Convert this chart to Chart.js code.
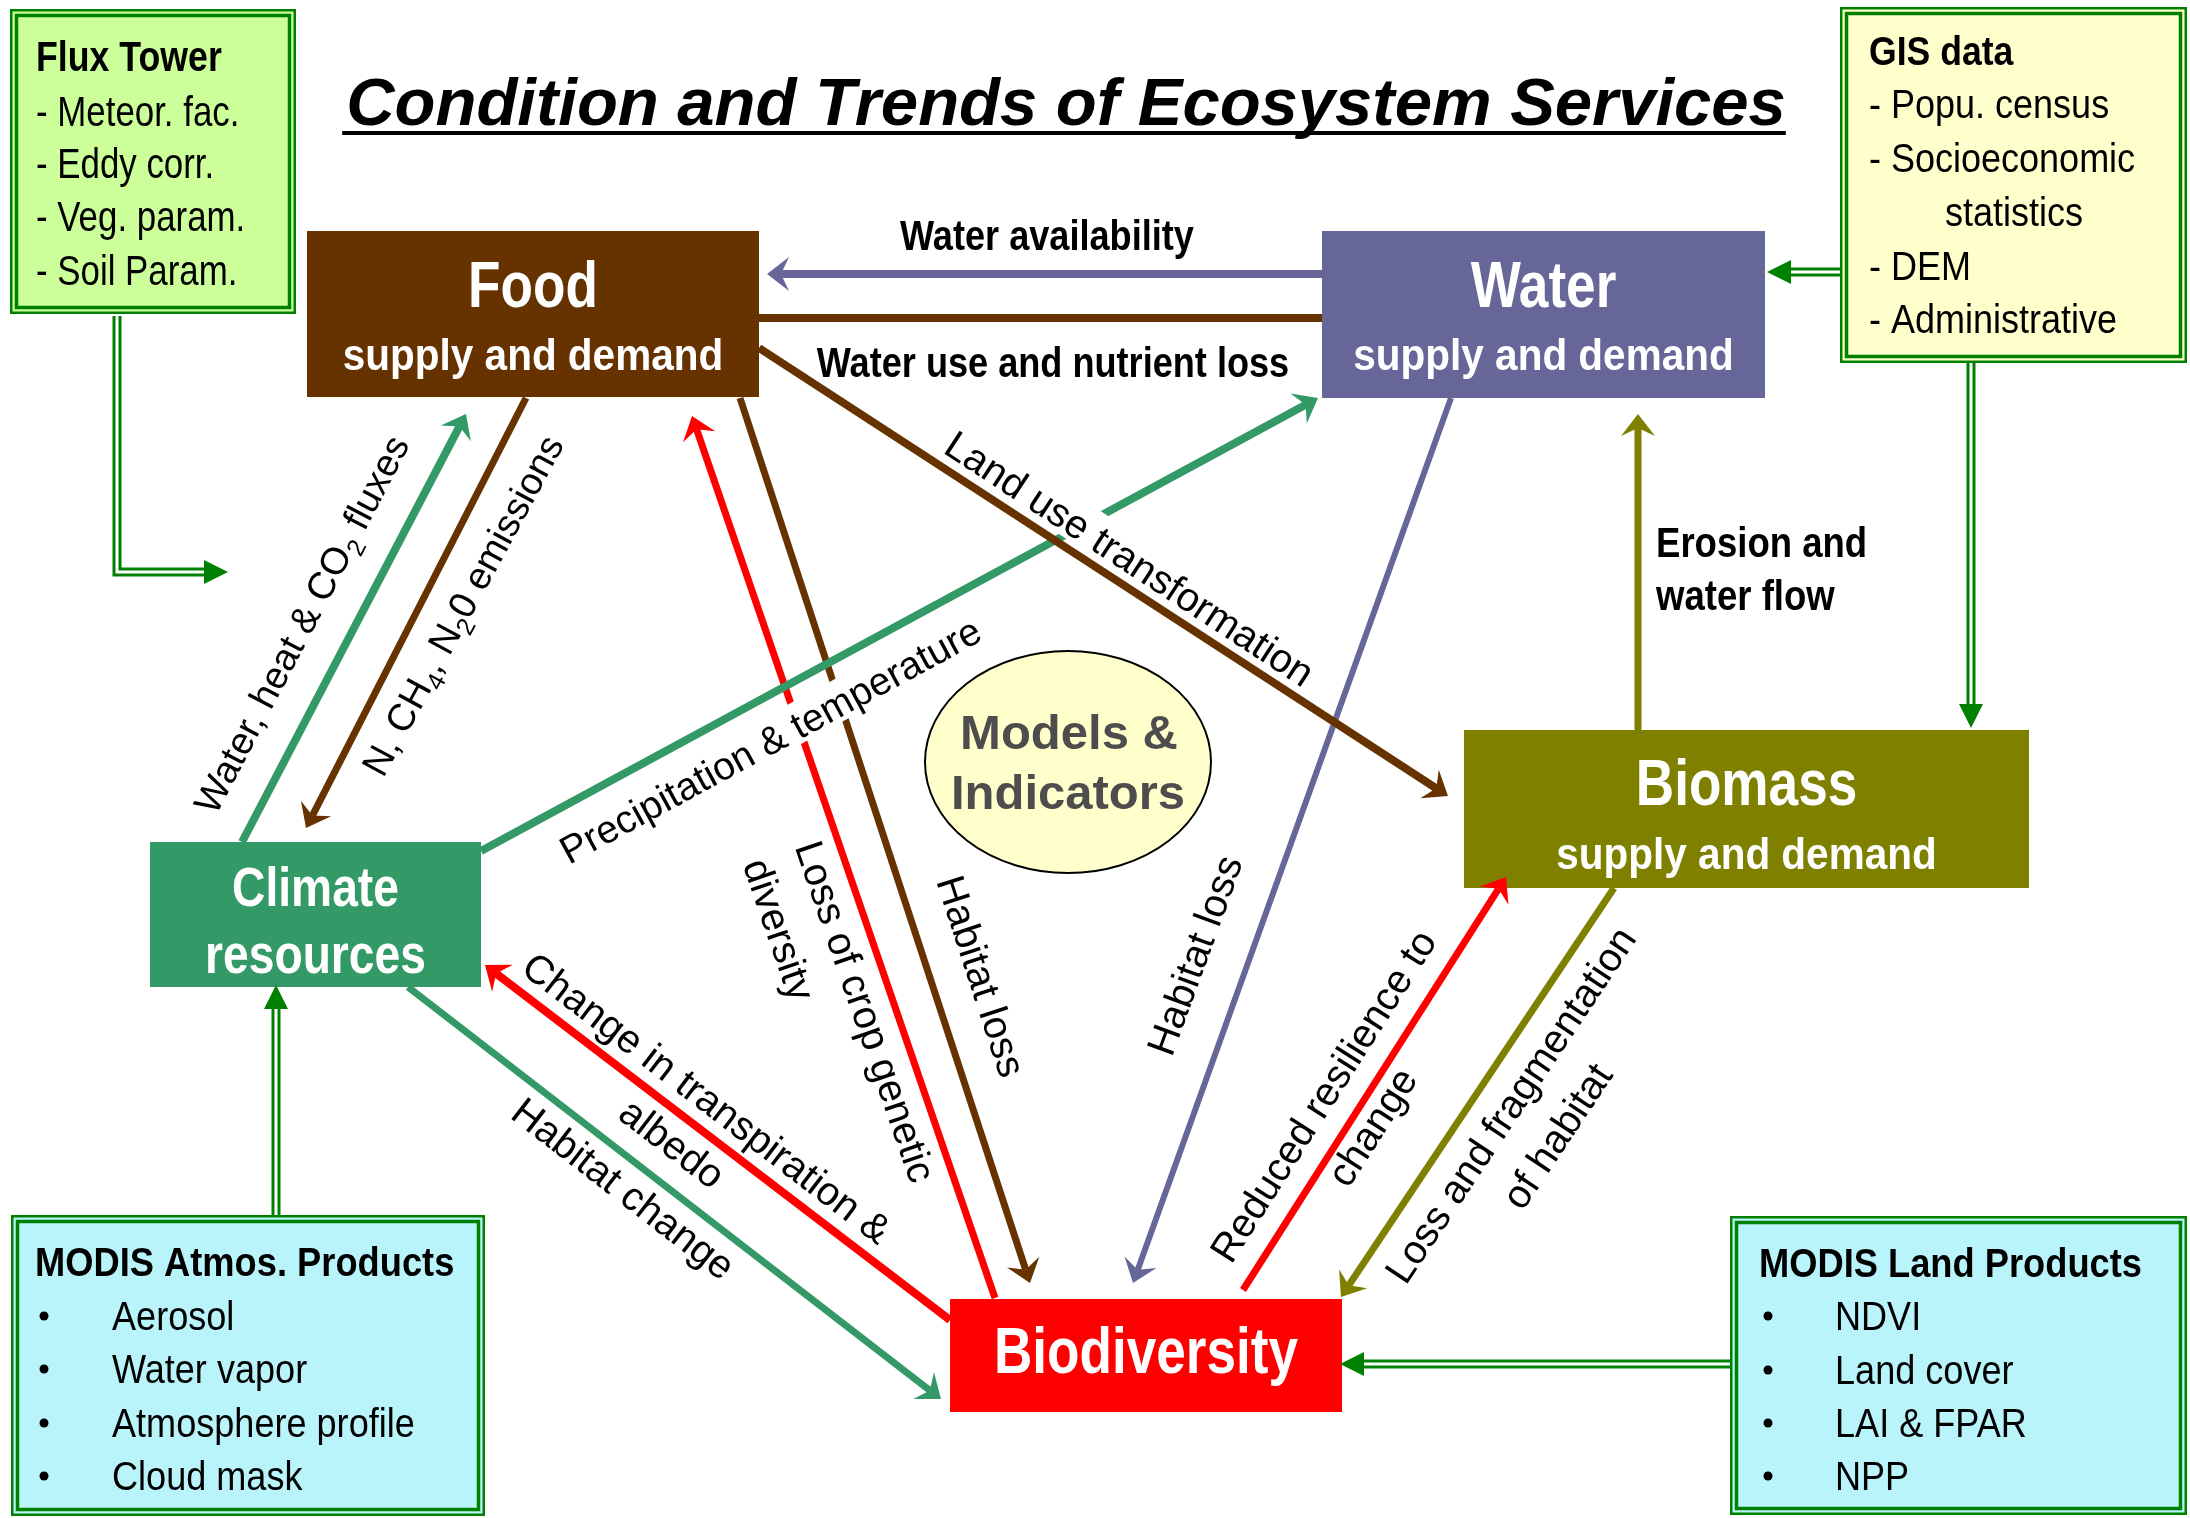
<!DOCTYPE html>
<html>
<head>
<meta charset="utf-8">
<title>Condition and Trends of Ecosystem Services</title>
<script src="https://cdn.jsdelivr.net/npm/chart.js@4.4.1/dist/chart.umd.min.js"></script>
<style>
  html, body { margin: 0; padding: 0; background: #fff; overflow: hidden; }
  #wrap { width: 2190px; height: 1518px; }
</style>
</head>
<body>
<div id="wrap"><canvas id="diagram" width="2190" height="1518"></canvas></div>
<script>
// ---- text ----
const titleText = 'Condition and Trends of Ecosystem Services';
const nodeNames = ['Food', 'Water', 'Biomass', 'Climate', 'Biodiversity'];
const nodeSubtitles = ['supply and demand', 'supply and demand', 'supply and demand', 'resources', ''];
const centreLines = ['Models &', 'Indicators'];
const sourceTitles = ['Flux Tower', 'GIS data', 'MODIS Atmos. Products', 'MODIS Land Products'];
const fluxItems = ['- Meteor. fac.', '- Eddy corr.', '- Veg. param.', '- Soil Param.'];
const gisItems = ['- Popu. census', '- Socioeconomic', 'statistics', '- DEM', '- Administrative'];
const atmosItems = ['Aerosol', 'Water vapor', 'Atmosphere profile', 'Cloud mask'];
const landItems = ['NDVI', 'Land cover', 'LAI & FPAR', 'NPP'];
// "_n" marks a subscript digit
const linkLabels = [
    ['Water availability'],
    ['Water use and nutrient loss'],
    ['Land use transformation'],
    ['N, CH_4, N_20 emissions'],
    ['Water, heat & CO_2 fluxes'],
    ['Precipitation & temperature'],
    ['Loss of crop genetic', 'diversity'],
    ['Habitat loss'],
    ['Habitat loss'],
    ['Erosion and', 'water flow'],
    ['Reduced resilience to', 'change'],
    ['Loss and fragmentation', 'of habitat'],
    ['Change in transpiration &', 'albedo'],
    ['Habitat change']
];

// ---- layout, in a 2190 x 1518 value space ----
const nodeBox = [[307, 231, 759, 397], [1322, 231, 1765, 398], [1464, 730, 2029, 888], [150, 842, 481, 987], [950, 1299, 1342, 1412]];
const nodeFill = ['#663300', '#666699', '#808000', '#339966', '#ff0000'];
const nodeBaselines = [[307, 370], [307, 370], [805, 869], [906, 973], [1373]];
const nodeSizes = [[64, 45], [64, 45], [64, 45], [55, 55], [64]];

const links = [
    { a: [1322, 274], b: [767, 274], c: '#666699', w: 8 },
    { a: [759, 318], b: [1322, 318], c: '#663300', w: 8, head: false },
    { a: [759, 348], b: [1448, 796], c: '#663300', w: 8 },
    { a: [526, 398], b: [306, 828], c: '#663300', w: 7 },
    { a: [242, 842], b: [466, 414], c: '#339966', w: 8 },
    { a: [481, 851], b: [1318, 398], c: '#339966', w: 8 },
    { a: [995, 1298], b: [692, 416], c: '#ff0000', w: 7 },
    { a: [740, 398], b: [1030, 1283], c: '#663300', w: 7 },
    { a: [1451, 398], b: [1133, 1283], c: '#666699', w: 6 },
    { a: [1638, 730], b: [1638, 414], c: '#808000', w: 7 },
    { a: [1243, 1290], b: [1506, 877], c: '#ff0000', w: 7 },
    { a: [1614, 888], b: [1341, 1297], c: '#808000', w: 7 },
    { a: [950, 1320], b: [485, 965], c: '#ff0000', w: 8 },
    { a: [408, 987], b: [941, 1399], c: '#339966', w: 7 }
];

const labelPos = [
    { x: 1047, y: 235, ang: 0, size: 42, bold: true, sx: 0.86 },
    { x: 1053, y: 362, ang: 0, size: 42, bold: true, sx: 0.86 },
    { x: 1130, y: 558, ang: 33.2, size: 40, bg: true },
    { x: 462, y: 605, ang: -61.5, size: 38 },
    { x: 301, y: 624, ang: -62.4, size: 38 },
    { x: 770, y: 740, ang: -28.5, size: 39, bg: true },
    { x: 782, y: 851, ang: 71, size: 40, lh: 55, align: 'left' },
    { x: 982, y: 976, ang: 72, size: 40 },
    { x: 1194, y: 955, ang: -70, size: 40 },
    { x: 1656, y: 568, ang: 0, size: 43, lh: 53, bold: true, sx: 0.85, align: 'left' },
    { x: 1347, y: 1111, ang: -57.5, size: 40, lh: 58 },
    { x: 1533, y: 1120, ang: -56.3, size: 40, lh: 56 },
    { x: 690, y: 1120, ang: 37.4, size: 40, lh: 57 },
    { x: 624, y: 1188, ang: 37.7, size: 40 }
];

// double green feeds from the data-source boxes
const feeds = [
    [[117, 316], [117, 572], [228, 572]],
    [[1840, 272], [1767, 272]],
    [[1971, 363], [1971, 728]],
    [[276, 1215], [276, 985]],
    [[1730, 1364], [1340, 1364]]
];

const sourceBox = [[10, 9, 296, 314], [1840, 7, 2187, 363], [11, 1215, 485, 1516], [1730, 1216, 2187, 1515]];
const sourceFill = ['#ccff99', '#ffffcc', '#b8f4fa', '#b8f4fa'];

const HEAD = { len: 22, hw: 17, notch: 14 };
const FEED_HEAD = { len: 24, hw: 12 };
const FONT = '"Liberation Sans", Arial, sans-serif';

function backOff(a, b, d) {
    const dx = b[0] - a[0], dy = b[1] - a[1], n = Math.hypot(dx, dy);
    return [b[0] - dx / n * d, b[1] - dy / n * d];
}
const pt = p => ({ x: p[0], y: p[1] });

const datasets = [];
links.forEach(l => {
    const end = l.head === false ? l.b : backOff(l.a, l.b, HEAD.notch);
    datasets.push({ data: [pt(l.a), pt(end)], borderColor: l.c, borderWidth: l.w, order: 0 });
});
feeds.forEach(f => {
    const pts = f.slice();
    pts[pts.length - 1] = backOff(pts[pts.length - 2], pts[pts.length - 1], FEED_HEAD.len - 2);
    datasets.push({ data: pts.map(pt), borderColor: '#008000', borderWidth: 9, order: 2 });
    datasets.push({ data: pts.map(pt), borderColor: '#ffffff', borderWidth: 3, order: 1 });
});

function fontSpec(size, bold, italic) {
    return (italic ? 'italic ' : '') + (bold ? 'bold ' : '') + size + 'px ' + FONT;
}

function richParts(str) {
    return str.split(/(_\d)/).filter(s => s).map(s => s[0] === '_' ? { t: s.slice(1), sub: true } : { t: s, sub: false });
}

function richWidth(ctx, str, size, bold) {
    let w = 0;
    richParts(str).forEach(p => {
        ctx.font = fontSpec(p.sub ? Math.round(size * 0.65) : size, bold);
        w += ctx.measureText(p.t).width;
    });
    return w;
}

function richDraw(ctx, str, x, y, size, bold) {
    richParts(str).forEach(p => {
        const s = p.sub ? Math.round(size * 0.65) : size;
        ctx.font = fontSpec(s, bold);
        ctx.fillText(p.t, x, p.sub ? y + size * 0.22 : y);
        x += ctx.measureText(p.t).width;
    });
}

const diagramPlugin = {
    id: 'diagram',
    beforeDraw(chart) {
        const ctx = chart.ctx;
        ctx.save();
        ctx.fillStyle = '#ffffff';
        ctx.fillRect(0, 0, chart.width, chart.height);
        ctx.restore();
    },
    afterDatasetsDraw(chart) {
        const ctx = chart.ctx;
        const xs = chart.scales.x, ys = chart.scales.y;
        const P = p => [xs.getPixelForValue(p[0]), ys.getPixelForValue(p[1])];
        const k = (xs.right - xs.left) / 2190;

        function text(str, x, y, o) {
            const p = P([x, y]);
            ctx.save();
            ctx.translate(p[0], p[1]);
            ctx.scale(o.sx || 1, 1);
            ctx.font = fontSpec(o.size * k, o.bold, o.italic);
            ctx.fillStyle = o.color || '#000';
            ctx.textAlign = o.align || 'left';
            ctx.textBaseline = 'alphabetic';
            ctx.fillText(str, 0, 0);
            ctx.restore();
        }

        function head(from, tip, len, hw, notch, color) {
            const a = P(from), t = P(tip);
            const dx = t[0] - a[0], dy = t[1] - a[1], d = Math.hypot(dx, dy);
            const ux = dx / d, uy = dy / d, nx = -uy, ny = ux;
            len *= k; hw *= k; notch *= k;
            ctx.beginPath();
            ctx.moveTo(t[0], t[1]);
            ctx.lineTo(t[0] - ux * len + nx * hw, t[1] - uy * len + ny * hw);
            ctx.lineTo(t[0] - ux * notch, t[1] - uy * notch);
            ctx.lineTo(t[0] - ux * len - nx * hw, t[1] - uy * len - ny * hw);
            ctx.closePath();
            ctx.fillStyle = color;
            ctx.fill();
        }

        // coloured service boxes
        nodeBox.forEach((r, i) => {
            const a = P([r[0], r[1]]), b = P([r[2], r[3]]);
            ctx.fillStyle = nodeFill[i];
            ctx.fillRect(a[0], a[1], b[0] - a[0], b[1] - a[1]);
        });

        // data-source boxes with double green frame
        sourceBox.forEach((r, i) => {
            const a = P([r[0], r[1]]), b = P([r[2], r[3]]);
            const w = b[0] - a[0], h = b[1] - a[1];
            ctx.fillStyle = sourceFill[i];
            ctx.fillRect(a[0], a[1], w, h);
            ctx.strokeStyle = '#008000';
            ctx.lineWidth = 2.5;
            ctx.strokeRect(a[0] + 1.25, a[1] + 1.25, w - 2.5, h - 2.5);
            ctx.lineWidth = 3.5;
            ctx.strokeRect(a[0] + 6.5, a[1] + 6.5, w - 13, h - 13);
        });

        // centre ellipse
        const c = P([1068, 762]);
        ctx.beginPath();
        ctx.ellipse(c[0], c[1], 143 * k, 111 * k, 0, 0, Math.PI * 2);
        ctx.fillStyle = '#ffffcc';
        ctx.fill();
        ctx.lineWidth = 2;
        ctx.strokeStyle = '#000';
        ctx.stroke();

        // arrow heads
        links.forEach(l => {
            if (l.head !== false) head(l.a, l.b, HEAD.len, HEAD.hw, HEAD.notch, l.c);
        });
        feeds.forEach(f => {
            head(f[f.length - 2], f[f.length - 1], FEED_HEAD.len, FEED_HEAD.hw, FEED_HEAD.len, '#008000');
        });

        // title with underline
        text(titleText, 1066, 125, { size: 67, bold: true, italic: true, align: 'center' });
        ctx.font = fontSpec(67 * k, true, true);
        const tw = ctx.measureText(titleText).width;
        const tl = P([1066, 131]);
        ctx.fillStyle = '#000';
        ctx.fillRect(tl[0] - tw / 2 - 4, tl[1], tw + 4, 4 * k);

        // service box texts
        nodeNames.forEach((name, i) => {
            const r = nodeBox[i], cx = (r[0] + r[2]) / 2;
            const big = nodeSizes[i][0];
            text(name, cx, nodeBaselines[i][0], { size: big, bold: true, sx: big > 60 ? 0.83 : 0.84, align: 'center', color: '#fff' });
            if (nodeSubtitles[i]) {
                const small = nodeSizes[i][1];
                text(nodeSubtitles[i], cx, nodeBaselines[i][1], { size: small, bold: true, sx: small > 50 ? 0.84 : 0.9, align: 'center', color: '#fff' });
            }
        });

        // centre label
        text(centreLines[0], 1069, 749, { size: 49, bold: true, align: 'center', color: '#4d4d4d' });
        text(centreLines[1], 1068, 809, { size: 49, bold: true, align: 'center', color: '#4d4d4d' });

        // source box texts
        text(sourceTitles[0], 36, 71, { size: 42, bold: true, sx: 0.85 });
        [126, 178, 231, 285].forEach((y, i) => text(fluxItems[i], 36, y, { size: 42, sx: 0.83 }));

        text(sourceTitles[1], 1869, 65, { size: 40, bold: true, sx: 0.89 });
        const gisX = [1869, 1869, 1945, 1869, 1869];
        [118, 172, 226, 280, 333].forEach((y, i) => text(gisItems[i], gisX[i], y, { size: 40, sx: 0.9 }));

        const lists = [
            { items: atmosItems, titleX: 35, titleY: 1276, dotX: 41, itemX: 112, ys: [1330, 1383, 1437, 1490] },
            { items: landItems, titleX: 1759, titleY: 1277, dotX: 1765, itemX: 1835, ys: [1330, 1384, 1437, 1490] }
        ];
        lists.forEach((L, j) => {
            text(sourceTitles[2 + j], L.titleX, L.titleY, { size: 41, bold: true, sx: 0.885 });
            L.ys.forEach((y, i) => {
                const d = P([L.dotX + 3, y - 14]);
                ctx.beginPath();
                ctx.arc(d[0], d[1], 4.5 * k, 0, Math.PI * 2);
                ctx.fillStyle = '#000';
                ctx.fill();
                text(L.items[i], L.itemX, y, { size: 41, sx: 0.88 });
            });
        });

        // link labels
        linkLabels.forEach((lines, i) => {
            const o = labelPos[i];
            const size = o.size * k, lh = (o.lh || 50) * k, sx = o.sx || 1;
            const p = P([o.x, o.y]);
            ctx.save();
            ctx.translate(p[0], p[1]);
            ctx.rotate(o.ang * Math.PI / 180);
            ctx.scale(sx, 1);
            const widths = lines.map(s => richWidth(ctx, s, size, o.bold));
            lines.forEach((s, j) => {
                const yc = (j - (lines.length - 1) / 2) * lh;
                const x0 = o.align === 'left' ? 0 : -widths[j] / 2;
                if (o.bg) {
                    ctx.fillStyle = '#fff';
                    ctx.fillRect(x0 - 4, yc - size * 0.58, widths[j] + 8, size * 1.05);
                }
                ctx.fillStyle = '#000';
                ctx.textAlign = 'left';
                ctx.textBaseline = 'alphabetic';
                richDraw(ctx, s, x0, yc + size * 0.358, size, o.bold);
            });
            ctx.restore();
        });
    }
};

new Chart(document.getElementById('diagram').getContext('2d'), {
    type: 'scatter',
    data: { datasets: datasets.map(d => Object.assign({
        showLine: true,
        pointRadius: 0,
        pointHoverRadius: 0,
        tension: 0,
        borderCapStyle: 'butt',
        borderJoinStyle: 'miter',
        clip: false
    }, d)) },
    options: {
        responsive: false,
        animation: false,
        devicePixelRatio: 1,
        events: [],
        layout: { padding: 0 },
        plugins: { legend: { display: false }, tooltip: { enabled: false } },
        scales: {
            x: { type: 'linear', min: 0, max: 2190, display: false },
            y: { type: 'linear', min: 0, max: 1518, reverse: true, display: false }
        }
    },
    plugins: [diagramPlugin]
});
</script>
</body>
</html>
